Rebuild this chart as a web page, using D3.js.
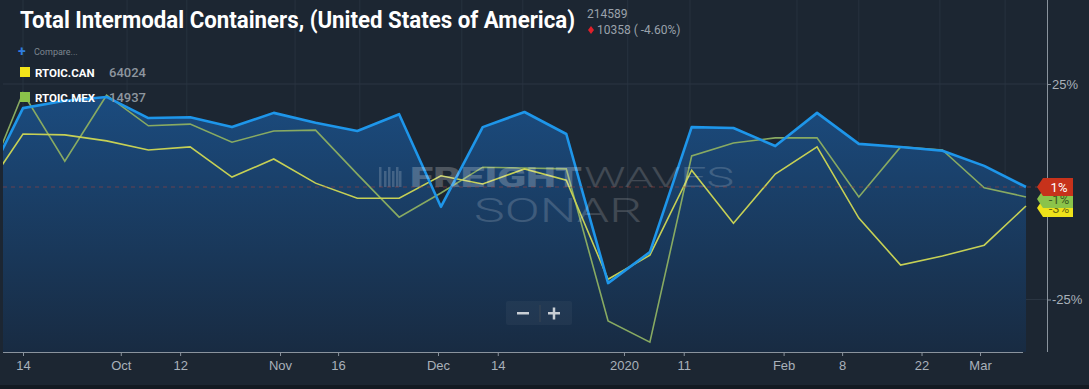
<!DOCTYPE html>
<html lang="en">
<head>
  <meta charset="UTF-8">
  <title>Total Intermodal Containers - SONAR</title>
  <script src="https://d3js.org/d3.v7.min.js"></script>
  <style>
    body { margin: 0; background: #1c2632; overflow: hidden; }
    svg { display: block; font-family: Roboto, 'Open Sans', sans-serif; }
    .axis text { fill: #a9b1ba; font-size: 13px; }
    .axis path, .axis line { stroke: #8a939d; }
  </style>
</head>
<body>
  <div id="chart"></div>
  <script>
    // weekly % change, first value sits just left of the visible plot
    const usa = [-0.1, 19.4, 21.1, 22.0, 17.1, 17.3, 15.0, 18.3, 16.0, 14.1, 18.0, -3.5, 15.0,
                 18.5, 13.4, -21.2, -14.0, 15.0, 14.8, 10.6, 18.3, 11.1, 10.4, 9.5, 6.0, 1.1];
    const mex = [-1.0, 22.9, 7.1, 22.4, 15.3, 15.7, 11.5, 14.1, 14.3, 4.1, -5.9, -0.3, 5.7,
                 5.5, 5.3, -30.0, -34.9, 8.3, 11.3, 12.5, 12.5, -1.2, 10.4, 9.7, 0.9, -1.2];
    const can = [-1.0, 13.4, 13.2, 11.8, 9.7, 10.4, 3.4, 7.6, 2.0, -1.5, -1.5, 3.7, 1.8,
                 5.3, 2.7, -20.3, -14.7, 5.0, -7.3, 4.1, 10.4, -6.1, -17.0, -14.9, -12.4, -3.3];

    const tickLabels = ["14", "Oct", "12", "Nov", "16", "Dec", "14", "2020", "11", "Feb", "8", "22", "Mar"];
    const tickAt = [0, 2.34, 3.76, 6.15, 7.54, 9.93, 11.36, 14.38, 15.81, 18.2, 19.6, 21.5, 22.9];
    const gridAt = [0, 2.49, 3.92, 6.51, 8.06, 10.5, 11.96, 14.47, 15.96, 18.52, 20.0, 21.94, 23.5];
    const yTicks = [25, -25];

    const series = [
      { key: "RTOIC.CAN", last: "64024", color: "#c6d055", chip: "#f2e41a", values: can },
      { key: "RTOIC.MEX", last: "14937", color: "#88aa62", chip: "#8bc34a", values: mex }
    ];

    const W = 1089, H = 389;
    const plot = { left: 3, right: 1027, bottom: 352 };

    const svg = d3.select("#chart").append("svg")
      .attr("width", W).attr("height", H);

    const x = d3.scaleLinear().domain([0, 24]).range([23, 1026]);
    const y = d3.scaleLinear().domain([-25, 25]).range([299.5, 84]);
    const idx = (d, i) => x(i - 1);

    const defs = svg.append("defs");
    const grad = defs.append("linearGradient").attr("id", "fillGrad")
      .attr("gradientUnits", "userSpaceOnUse")
      .attr("x1", 0).attr("x2", 0).attr("y1", 90).attr("y2", plot.bottom);
    grad.append("stop").attr("offset", 0).attr("stop-color", "#1b4c80");
    grad.append("stop").attr("offset", 1).attr("stop-color", "#182b42");
    defs.append("clipPath").attr("id", "clip").append("rect")
      .attr("x", plot.left).attr("y", 0)
      .attr("width", plot.right - plot.left).attr("height", plot.bottom);

    // bottom dark strip
    svg.append("rect").attr("x", 0).attr("y", 385).attr("width", W).attr("height", 4).attr("fill", "#131a22");

    // grid
    svg.append("g").selectAll("line").data(gridAt).join("line")
      .attr("x1", d => x(d)).attr("x2", d => x(d))
      .attr("y1", 0).attr("y2", plot.bottom)
      .attr("stroke", "#27323f").attr("stroke-width", 1);
    svg.append("g").selectAll("line").data(yTicks).join("line")
      .attr("x1", plot.left).attr("x2", 1047)
      .attr("y1", d => y(d)).attr("y2", d => y(d))
      .attr("stroke", "#2a3542");

    const g = svg.append("g").attr("clip-path", "url(#clip)");

    g.append("path").datum(usa)
      .attr("fill", "url(#fillGrad)")
      .attr("d", d3.area().x(idx).y0(plot.bottom).y1(d => y(d)));

    // watermark
    const wm = svg.append("g").attr("fill", "#ffffff");
    [0, 5, 9, 13, 17, 20].forEach((o, k) => {
      wm.append("rect").attr("x", 379 + o).attr("y", 167 + (k % 2) * 4)
        .attr("width", 2.5).attr("height", 20 - (k % 2) * 4).attr("opacity", 0.18);
    });
    wm.append("text").attr("x", 410).attr("y", 187)
      .attr("font-size", 27).attr("font-weight", 900).attr("opacity", 0.22)
      .attr("textLength", 172).attr("lengthAdjust", "spacingAndGlyphs").text("FREIGHT");
    wm.append("text").attr("x", 584).attr("y", 187)
      .attr("font-size", 27).attr("font-weight", 300).attr("opacity", 0.16)
      .attr("textLength", 150).attr("lengthAdjust", "spacingAndGlyphs").text("WAVES");
    wm.append("text").attr("x", 474).attr("y", 222)
      .attr("font-size", 33).attr("font-weight", 300).attr("opacity", 0.16)
      .attr("textLength", 168).attr("lengthAdjust", "spacingAndGlyphs").text("SONAR");

    // last value line
    svg.append("line")
      .attr("x1", plot.left).attr("x2", 1040)
      .attr("y1", y(usa[usa.length - 1])).attr("y2", y(usa[usa.length - 1]))
      .attr("stroke", "#a8433a").attr("stroke-opacity", 0.55)
      .attr("stroke-dasharray", "4,4");

    const line = d3.line().x(idx).y(d => y(d));
    series.slice().reverse().forEach(s => {
      g.append("path").datum(s.values)
        .attr("fill", "none").attr("stroke", s.color).attr("stroke-width", 1.6)
        .attr("d", line);
    });
    g.append("path").datum(usa)
      .attr("fill", "none").attr("stroke", "#1e96ea").attr("stroke-width", 2.6)
      .attr("stroke-linejoin", "round")
      .attr("d", line);

    // axes
    svg.append("g").attr("class", "axis")
      .attr("transform", `translate(0,${plot.bottom})`)
      .call(d3.axisBottom(x).tickValues(tickAt).tickFormat((d, i) => tickLabels[i])
        .tickSize(4).tickPadding(5).tickSizeOuter(0))
      .call(a => a.select(".domain").attr("d", `M${plot.left},0.5H${plot.right - 4}`));

    svg.append("g").attr("class", "axis")
      .attr("transform", "translate(1047,0)")
      .call(d3.axisRight(y).tickValues(yTicks).tickFormat(d => d + "%").tickSize(4).tickPadding(1))
      .call(a => a.select(".domain").attr("d", `M0.5,0V${plot.bottom}`))
      .call(a => a.selectAll(".tick text").attr("font-size", 14));

    // end tags
    const tags = [
      { v: can[can.length - 1], fill: "#efe21a", text: "-3%", tc: "#6b6a10" },
      { v: mex[mex.length - 1], fill: "#8bc34a", text: "-1%", tc: "#3b5a1e" },
      { v: usa[usa.length - 1], fill: "#c7321b", text: "1%", tc: "#ffffff" }
    ];
    tags.forEach(t => {
      const cy = y(t.v) + (t.text === "1%" ? 0 : 2);
      const tg = svg.append("g").attr("transform", `translate(1037,${cy})`);
      tg.append("path")
        .attr("d", "M0,0L6,-9H36V9H6Z").attr("fill", t.fill);
      tg.append("text").attr("x", 22).attr("y", 5)
        .attr("text-anchor", "middle").attr("font-size", 13)
        .attr("fill", t.tc).text(t.text);
    });

    // title block
    svg.append("text").attr("x", 20).attr("y", 28)
      .attr("font-size", 24).attr("font-weight", 700).attr("fill", "#ffffff")
      .attr("textLength", 555).attr("lengthAdjust", "spacingAndGlyphs")
      .text("Total Intermodal Containers, (United States of America)");
    svg.append("text").attr("x", 587).attr("y", 18)
      .attr("font-size", 12).attr("fill", "#9aa2ab").text("214589");
    svg.append("path").attr("transform", "translate(591,30)")
      .attr("d", "M0,-4L3,0L0,4L-3,0Z").attr("fill", "#e0202a");
    svg.append("text").attr("x", 597).attr("y", 34)
      .attr("font-size", 12).attr("fill", "#9aa2ab").text("10358 ( -4.60%)");

    // legend
    const lg = svg.append("g");
    lg.append("text").attr("x", 18).attr("y", 56).attr("font-size", 14).attr("font-weight", 700)
      .attr("fill", "#2f7de0").text("+");
    lg.append("text").attr("x", 34).attr("y", 55).attr("font-size", 9).attr("fill", "#7d8690").text("Compare...");
    series.forEach((s, i) => {
      const yy = 77 + i * 25;
      lg.append("rect").attr("x", 20).attr("y", yy - 10).attr("width", 10).attr("height", 10).attr("fill", s.chip);
      lg.append("text").attr("x", 35).attr("y", yy).attr("font-size", 11.5).attr("font-weight", 700)
        .attr("fill", "#ffffff").text(s.key);
      lg.append("text").attr("x", 109).attr("y", yy).attr("font-size", 13).attr("font-weight", 500)
        .attr("fill", "#8e969f").text(s.last);
    });

    // zoom buttons
    const zb = svg.append("g");
    zb.append("rect").attr("x", 506).attr("y", 301).attr("width", 66).attr("height", 24).attr("rx", 2)
      .attr("fill", "#ffffff").attr("fill-opacity", 0.04);
    zb.append("line").attr("x1", 540).attr("x2", 540).attr("y1", 305).attr("y2", 322).attr("stroke", "#3a4654");
    zb.append("rect").attr("x", 517).attr("y", 312).attr("width", 12).attr("height", 2.5).attr("fill", "#c8ced4");
    zb.append("rect").attr("x", 548).attr("y", 312).attr("width", 12).attr("height", 2.5).attr("fill", "#c8ced4");
    zb.append("rect").attr("x", 552.75).attr("y", 307.5).attr("width", 2.5).attr("height", 12).attr("fill", "#c8ced4");
  </script>
</body>
</html>
